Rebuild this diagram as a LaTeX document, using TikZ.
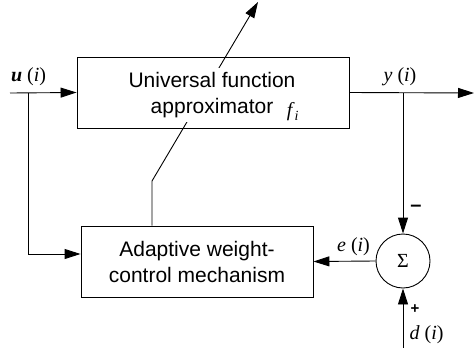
\documentclass[tikz,border=0pt]{standalone}
\usepackage{fontspec}
\setmainfont{Liberation Sans}
\newfontfamily\tnr{Liberation Serif}
\usetikzlibrary{arrows.meta,calc}
\begin{document}
\begin{tikzpicture}[x=1pt,y=-1pt,
  line width=0.9pt,
  arr/.style={-{Triangle[length=16pt,width=10pt]}},
  blk/.style={draw,rectangle,inner sep=0pt},
  blktext/.style={align=center,font=\fontsize{21}{26}\selectfont},
  lbl/.style={font=\tnr\fontsize{20}{24}\selectfont,inner sep=0pt},
  sgn/.style={font=\bfseries\fontsize{15}{18}\selectfont,inner sep=0pt}]
\useasboundingbox (0,0) rectangle (474,348);
% blocks
\node[blk,minimum width=272pt,minimum height=71pt] (ufa) at (213,92.5) {};
\node[blk,blktext,minimum width=232pt,minimum height=71pt] (awc) at (197,261.5) {Adaptive weight-\\control mechanism};
\node[draw,circle,minimum size=54pt,inner sep=0pt,font=\tnr\fontsize{20}{24}\selectfont] (sum) at (403,261) {Σ};
% coordinates
\coordinate (uin) at (10,93);
\coordinate (ub) at (28,93);
\coordinate (yout) at (474,93);
\coordinate (yb) at (403,93);
\coordinate (din) at (403,348);
\coordinate (kink) at (152,181);
\coordinate (tip) at (258,2);
% adjustment arrow (behind text)
\draw[arr] ([xshift=-45pt]awc.north) -- (kink) -- (tip);
% text of top block
\node[blktext,fill=white,inner xsep=2pt,inner ysep=4pt] (ufat) at (212,95) {Universal function\\approximator};
\node[lbl] (fi) at (293,112) {\textit{f}\textsubscript{\textit{i}}};
% connectors
\draw[arr] (uin) -- (ufa.west);
\draw[arr] (ub) |- ([yshift=7.5pt]awc.west);
\draw[arr] (ufa.east) -- (yout);
\draw[arr] (yb) -- (sum.north);
\draw[arr] (sum.west) -- (awc.east);
\draw[arr] (din) -- (sum.south);
% labels
\node[lbl] (ul) at (28.5,77) {\textbf{\textit{u}} (\textit{i})};
\node[lbl] (yl) at (400,77) {\textit{y} (\textit{i})};
\node[lbl] (el) at (353.5,247) {\textit{e} (\textit{i})};
\node[lbl] (dl) at (426.5,335) {\textit{d} (\textit{i})};
\node[sgn,font=\bfseries\fontsize{20}{24}\selectfont] (minus) at (416,208) {–};
\node[sgn] (plus) at (415,309) {+};
\end{tikzpicture}
\end{document}
